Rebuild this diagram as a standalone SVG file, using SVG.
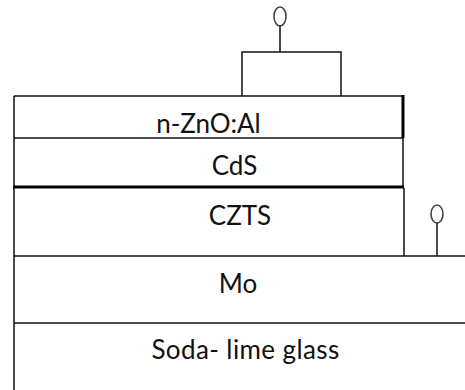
<svg xmlns="http://www.w3.org/2000/svg" width="465" height="390" viewBox="0 0 465 390">
<style>
.ln{fill:none;stroke:#111;stroke-width:1.5}
.thick{fill:none;stroke:#000;stroke-width:3}
.lbl{font-family:Lato,"Open Sans","Liberation Sans",sans-serif;font-size:26px;fill:#111;text-anchor:middle}
.term{fill:none;stroke:#444;stroke-width:1.6}
</style>
<rect width="465" height="390" fill="#fff"/>
<g id="glass">
<path class="ln" d="M14 323 V390 M14 323 H465"/>
<text class="lbl" x="245.5" y="359" letter-spacing="0.4">Soda- lime glass</text>
</g>
<g id="mo">
<path class="ln" d="M14 256 H465 M14 256 V323"/>
<text class="lbl" x="238" y="293">Mo</text>
</g>
<g id="czts">
<path class="ln" d="M14 188 V256 M404 188 V256"/>
<text class="lbl" x="240" y="225">CZTS</text>
</g>
<g id="cds">
<path class="ln" d="M14 138 H403 V187 M14 138 V188"/>
<path class="thick" d="M13 187 H404"/>
<text class="lbl" x="234.5" y="175">CdS</text>
</g>
<g id="zno">
<path class="ln" d="M14 96 H404 M14 96 V138"/>
<path class="thick" d="M403 95 V138"/>
<text class="lbl" x="208.5" y="133">n-ZnO:Al</text>
</g>
<g id="top-contact">
<path class="ln" d="M242 96 V52 H341 V96"/>
</g>
<g id="top-terminal">
<ellipse class="term" cx="280" cy="16.5" rx="6" ry="9.5"/>
</g>
<g id="back-terminal">
<ellipse class="term" cx="437" cy="214" rx="6" ry="9"/>
</g>
<g id="connectors">
<path class="ln" d="M280 26 V52"/>
<path class="ln" d="M437 223 V256"/>
</g>
</svg>
